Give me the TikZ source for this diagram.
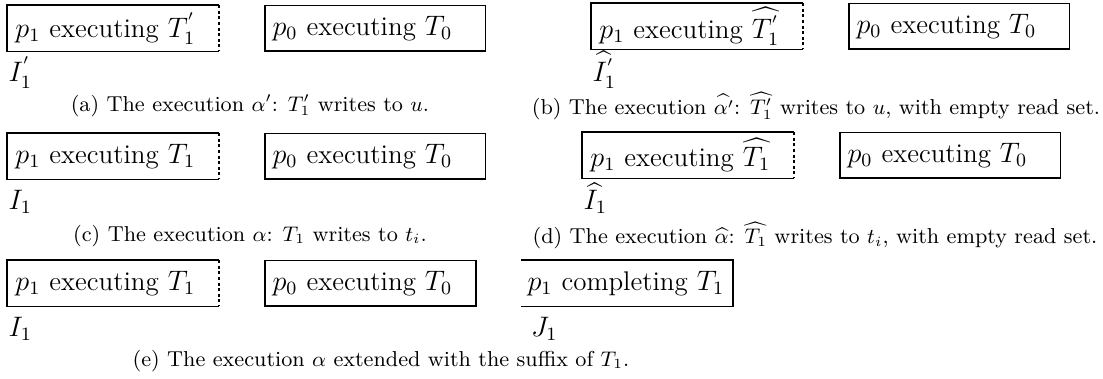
\documentclass[tikz,border=0pt]{standalone}
\usepackage{amsmath,amssymb}
\usepackage{tikz}
\usetikzlibrary{positioning}
\tikzset{
  proc/.style={
    minimum height=19.4pt, text width=83.1pt, inner xsep=3.4pt,
    inner ysep=0pt, align=left, font=\fontsize{11.5}{13.8}\selectfont
  },
  procFull/.style={proc,draw,line width=.8pt,text width=87.3pt},
  edgeLine/.style={line width=.8pt},
  cutEdge/.style={edgeLine,dash pattern=on 1.3pt off 1.1pt},
  lbl/.style={font=\fontsize{11.5}{13.8}\selectfont,inner sep=0pt,anchor=base west},
  capText/.style={font=\fontsize{9.2}{11}\selectfont,inner sep=0pt}
}

\begin{document}
\begin{tikzpicture}[x=0.4259pt,y=-0.4259pt,node distance=19pt]
  \useasboundingbox (0,0) rectangle (1103,379);
  % (a)
  \node[proc,anchor=north west] (a1) at (7,5) {$p_1$ executing $T_1^{'}$};
  \node[procFull,right=of a1] (a0) {$p_0$ executing $T_0$};
  \draw[edgeLine] (a1.north east) -- (a1.north west) -- (a1.south west) -- (a1.south east);
  \draw[cutEdge] (a1.north east) -- (a1.south east);
  \node[lbl] (aI) at ([xshift=.5pt,yshift=-12.8pt]a1.south west) {$I_1^{'}$};
  \node[capText] (capA) at (250,106) {(a) The execution $\alpha'$: $T_1'$ writes to $u$.};
  % (b)
  \node[proc,anchor=north west] (b1) at (591,3) {$p_1$ executing $\widehat{T_1^{'}}$};
  \node[procFull,right=of b1] (b0) {$p_0$ executing $T_0$};
  \draw[edgeLine] (b1.north east) -- (b1.north west) -- (b1.south west) -- (b1.south east);
  \draw[cutEdge] (b1.north east) -- (b1.south east);
  \node[lbl] (bI) at ([xshift=.5pt,yshift=-13.8pt]b1.south west) {$\widehat{I_1^{'}}$};
  \node[capText] (capB) at (816,106) {(b) The execution $\widehat{\alpha'}$: $\widehat{T_1'}$ writes to $u$, with empty read set.};
  % (c)
  \node[proc,anchor=north west] (c1) at (7,133) {$p_1$ executing $T_1$};
  \node[procFull,right=of c1] (c0) {$p_0$ executing $T_0$};
  \draw[edgeLine] (c1.north east) -- (c1.north west) -- (c1.south west) -- (c1.south east);
  \draw[cutEdge] (c1.north east) -- (c1.south east);
  \node[lbl] (cI) at ([xshift=.5pt,yshift=-12.8pt]c1.south west) {$I_1$};
  \node[capText] (capC) at (250,236) {(c) The execution $\alpha$: $T_1$ writes to $t_i$.};
  % (d)
  \node[proc,anchor=north west] (d1) at (582,132) {$p_1$ executing $\widehat{T_1}$};
  \node[procFull,right=of d1] (d0) {$p_0$ executing $T_0$};
  \draw[edgeLine] (d1.north east) -- (d1.north west) -- (d1.south west) -- (d1.south east);
  \draw[cutEdge] (d1.north east) -- (d1.south east);
  \node[lbl] (dI) at ([xshift=.5pt,yshift=-13.3pt]d1.south west) {$\widehat{I_1}$};
  \node[capText] (capD) at (815,236) {(d) The execution $\widehat{\alpha}$: $\widehat{T_1}$ writes to $t_i$, with empty read set.};
  % (e)
  \node[proc,anchor=north west] (e1) at (7,260) {$p_1$ executing $T_1$};
  \node[procFull,right=of e1,text width=83.1pt] (e0) {$p_0$ executing $T_0$};
  \node[proc,right=of e0,inner xsep=2.5pt,text width=84.9pt] (e2) {$p_1$ completing $T_1$};
  \draw[edgeLine] (e1.north east) -- (e1.north west) -- (e1.south west) -- (e1.south east);
  \draw[cutEdge] (e1.north east) -- (e1.south east);
  \draw[edgeLine] (e2.north west) -- (e2.north east) -- (e2.south east) -- (e2.south west);
  \node[lbl] (eI) at ([xshift=.5pt,yshift=-12.8pt]e1.south west) {$I_1$};
  \node[lbl] (eJ) at ([xshift=4pt,yshift=-12.8pt]e2.south west) {$J_1$};
  \node[capText] (capE) at (381,361) {(e) The execution $\alpha$ extended with the suffix of $T_1$.};
\end{tikzpicture}
\end{document}
